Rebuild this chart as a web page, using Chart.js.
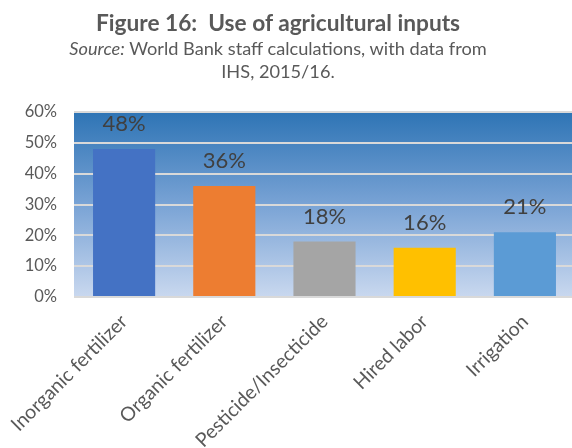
<!DOCTYPE html>
<html>
<head>
<meta charset="utf-8">
<script src="https://cdn.jsdelivr.net/npm/chart.js@4/dist/chart.umd.min.js"></script>
<style>
  html, body { margin: 0; padding: 0; background: #fff; width: 572px; height: 448px; overflow: hidden; }
  #wrap { position: relative; width: 580px; height: 448px; }
  #heading { position: absolute; left: 0; top: 9px; width: 556px; text-align: center; color: #595959; font-family: Lato, "Open Sans", sans-serif; }
  #heading .t { font-weight: bold; font-size: 22.7px; line-height: 28px; }
  #heading .s { font-size: 18.2px; line-height: 23px; }
  canvas { position: absolute; left: 0; top: 0; }
</style>
</head>
<body>
<div id="wrap">
  <canvas id="chart" width="580" height="448"></canvas>
  <div id="heading">
    <div class="t">Figure 16:&nbsp; Use of agricultural inputs</div>
    <div class="s"><i>Source:</i> World Bank staff calculations, with data from<br>IHS, 2015/16.</div>
  </div>
</div>
<script>
// categories and shares of households using each input (%)
const categories = ["Inorganic fertilizer", "Organic fertilizer", "Pesticide/Insecticide", "Hired labor", "Irrigation"];
const shares = [48, 36, 18, 16, 21];
const barColors = ["#4472c4", "#ed7d31", "#a5a5a5", "#ffc000", "#5b9bd5"];
const yTicks = [0, 10, 20, 30, 40, 50, 60];

const FONT = "Lato, 'Open Sans', sans-serif";

// blue gradient behind the bars
const plotFill = {
  id: "plotFill",
  beforeDraw(chart) {
    const { ctx, chartArea: a } = chart;
    const g = ctx.createLinearGradient(0, a.top, 0, a.bottom);
    g.addColorStop(0, "#2e74b5");
    g.addColorStop(0.5, "#79a3d5");
    g.addColorStop(1, "#c9d8ef");
    ctx.save();
    ctx.fillStyle = g;
    ctx.fillRect(a.left, a.top, a.right - a.left, a.bottom - a.top);
    ctx.restore();
  }
};

// value labels above each bar
const valueLabels = {
  id: "valueLabels",
  afterDatasetsDraw(chart) {
    const { ctx } = chart;
    const meta = chart.getDatasetMeta(0);
    ctx.save();
    ctx.font = "22px " + FONT;
    ctx.fillStyle = "#404040";
    ctx.textAlign = "center";
    ctx.textBaseline = "middle";
    meta.data.forEach((bar, i) => {
      ctx.fillText(shares[i] + "%", bar.x, bar.y - 25);
    });
    ctx.restore();
  }
};

new Chart(document.getElementById("chart"), {
  type: "bar",
  data: {
    labels: categories,
    datasets: [{
      data: shares,
      backgroundColor: barColors,
      categoryPercentage: 1,
      barPercentage: 0.62
    }]
  },
  options: {
    responsive: false,
    animation: false,
    layout: { padding: { top: 112, right: 5, left: 0, bottom: 0 } },
    plugins: { legend: { display: false }, tooltip: { enabled: false } },
    scales: {
      x: {
        afterFit(scale) { scale.height = 151; },
        grid: { display: false },
        border: { display: false },
        ticks: {
          minRotation: 45, maxRotation: 45, autoSkip: false,
          color: "#595959", font: { family: FONT, size: 19.5 }, padding: 5
        }
      },
      y: {
        min: 0, max: 60,
        afterFit(scale) { scale.width = 74; },
        afterBuildTicks(scale) { scale.ticks = yTicks.map(v => ({ value: v })); },
        grid: { color: "#d9d9d9", lineWidth: 2, drawTicks: false },
        border: { display: false },
        ticks: {
          color: "#595959", font: { family: FONT, size: 16.5 }, padding: 17,
          callback: v => v + "%"
        }
      }
    }
  },
  plugins: [plotFill, valueLabels]
});
</script>
</body>
</html>
